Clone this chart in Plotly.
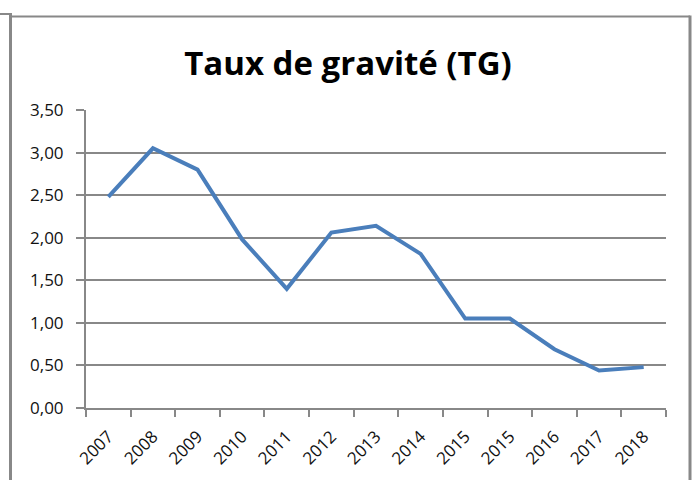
import plotly.graph_objects as go

years = ["2007", "2008", "2009", "2010", "2011", "2012", "2013", "2014",
         "2015", "2015", "2016", "2017", "2018"]
tg_values = [2.48, 3.05, 2.80, 1.98, 1.40, 2.06, 2.14, 1.81, 1.05, 1.05, 0.69, 0.44, 0.48]
title_text = "Taux de gravité (TG)"

W, H = 696, 480
L, R, T, B = 86, 30, 110, 72
pw, ph = W - L - R, H - T - B

def px(x):
    return (x - L) / pw

def py(y):
    return (H - B - y) / ph

xs = list(range(len(years)))
grey = "#888888"

fig = go.Figure()
fig.add_trace(go.Scatter(x=xs, y=tg_values, mode="lines",
                         line=dict(color="#4a7ebb", width=4), hoverinfo="skip"))

frame = dict(color=grey, width=3)
shapes = [
    dict(type="line", xref="paper", yref="paper", x0=px(10.5), x1=px(10.5), y0=py(13), y1=py(482), line=frame),
    dict(type="line", xref="paper", yref="paper", x0=px(-2), x1=px(10.5), y0=py(14), y1=py(14), line=dict(color=grey, width=2)),
    dict(type="line", xref="paper", yref="paper", x0=px(10.5), x1=px(690), y0=py(16.5), y1=py(16.5), line=dict(color=grey, width=2)),
    dict(type="line", xref="paper", yref="paper", x0=px(690), x1=px(690), y0=py(15.5), y1=py(482), line=frame),
]

fig.update_layout(
    width=W, height=H,
    margin=dict(l=L, r=R, t=T, b=B, autoexpand=False),
    paper_bgcolor="white", plot_bgcolor="white",
    separators=", ",
    showlegend=False,
    font=dict(family="Open Sans, Noto Sans, sans-serif", size=17, color="#111111"),
    title=dict(text="<b>" + title_text + "</b>", x=0.5, xref="container", xanchor="center",
               y=1 - 63 / H, yanchor="middle",
               font=dict(family="Open Sans, Noto Sans, sans-serif", size=33, color="black")),
    shapes=shapes,
    xaxis=dict(range=[-0.5, len(years) - 0.5], tickmode="array", tickvals=xs, ticktext=years,
               tickangle=-45, ticks="", showgrid=False, zeroline=False,
               showline=True, linecolor=grey, linewidth=2, automargin=False,
               ticklabelstandoff=10,
               minor=dict(tickmode="linear", tick0=-0.5, dtick=1, ticks="outside",
                          ticklen=7, tickcolor=grey, tickwidth=2, showgrid=False),
               tickfont=dict(size=17)),
    yaxis=dict(range=[0, 3.5], tickmode="linear", tick0=0, dtick=0.5, tickformat=".2f",
               ticks="outside", ticklen=8, tickcolor=grey, tickwidth=2,
               showgrid=True, gridcolor=grey, gridwidth=2, zeroline=False,
               showline=True, linecolor=grey, linewidth=2, ticklabelstandoff=9,
               automargin=False, tickfont=dict(size=17)),
)

fig.write_html("out.html", config={"displayModeBar": False},
               post_script="document.body.style.margin='0';document.body.style.padding='0';")
